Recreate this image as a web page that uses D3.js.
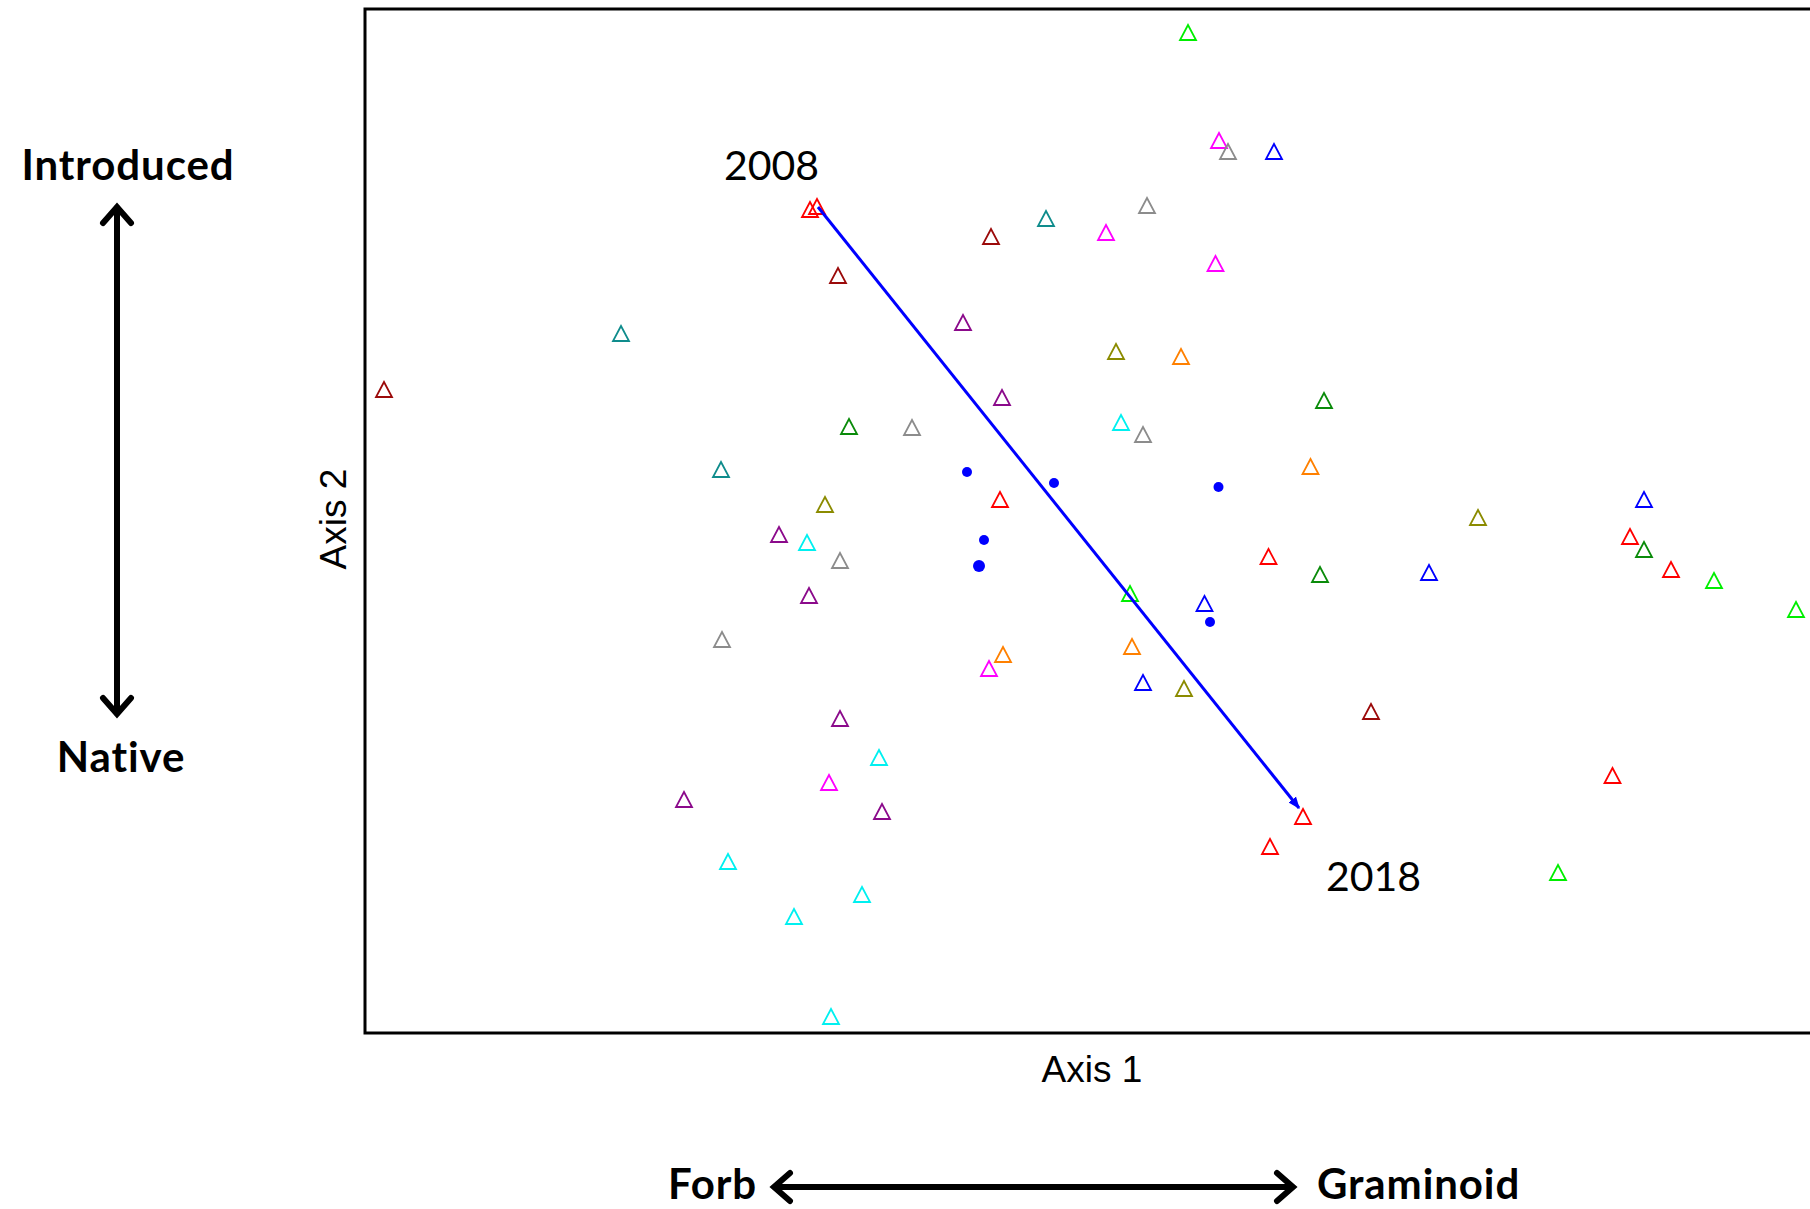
<!DOCTYPE html>
<html>
<head>
<meta charset="utf-8">
<script src="https://cdn.jsdelivr.net/npm/d3@7"></script>
<style>
  html, body { margin: 0; padding: 0; background: #fff; }
  svg { display: block; }
</style>
</head>
<body>
<script>
// NMDS ordination scores of plots (Axis 1, Axis 2) and their group
const siteX = [0.176, 0.238, 0.256, 0.348, -0.580, -0.566, 0.094, -0.108, -0.218, 0.012,
  -0.524, 0.231, -0.958, -0.274, -1.432, 0.032, 0.162, -0.196, 0.448, -0.502,
  -0.376, 0.042, 0.086, -0.758, 0.421, -0.200, -0.550, 1.088, 0.756, -0.642,
  -0.586, 1.060, 1.088, -0.520, 0.337, 0.440, 0.658, 1.142, 1.228, -0.582,
  0.060, 0.209, 1.392, -0.756, -0.194, -0.222, 0.064, 0.086, 0.168, 0.542,
  -0.520, -0.442, -0.542, -0.832, -0.436, 1.025, 0.406, 0.340, -0.744, -0.476,
  -0.612, 0.916, -0.538];
const siteY = [0.976, 0.760, 0.738, 0.738, 0.622, 0.628, 0.630, 0.604, 0.568, 0.576,
  0.490, 0.514, 0.374, 0.396, 0.262, 0.338, 0.328, 0.246, 0.240, 0.188,
  0.186, 0.196, 0.172, 0.102, 0.108, 0.042, 0.032, 0.042, 0.006, -0.028,
  -0.044, -0.032, -0.058, -0.080, -0.072, -0.108, -0.104, -0.098, -0.120, -0.150,
  -0.146, -0.166, -0.178, -0.238, -0.268, -0.296, -0.252, -0.324, -0.336, -0.382,
  -0.396, -0.474, -0.524, -0.558, -0.582, -0.510, -0.592, -0.652, -0.682, -0.748,
  -0.792, -0.704, -0.992];
const siteGroup = ["lime", "magenta", "gray", "blue", "red", "red", "gray", "teal", "darkred", "magenta",
  "darkred", "magenta", "teal", "purple", "darkred", "olive", "orange", "purple", "green", "green",
  "gray", "cyan", "gray", "teal", "orange", "red", "olive", "blue", "olive", "purple",
  "cyan", "red", "green", "gray", "red", "green", "blue", "red", "lime", "purple",
  "lime", "blue", "lime", "gray", "orange", "magenta", "orange", "blue", "olive", "darkred",
  "purple", "cyan", "magenta", "purple", "purple", "red", "red", "red", "cyan", "cyan",
  "cyan", "lime", "cyan"];

// Group colours
const groupNames  = ["red", "darkred", "teal", "gray", "magenta", "lime", "blue", "purple", "olive", "orange", "green", "cyan"];
const groupColors = ["#ff0000", "#9b0a0a", "#0f8c8c", "#8c8c8c", "#ff00ff", "#00ee00", "#0000ff", "#8b0a8b", "#8b8b00", "#ff8000", "#0a8b0a", "#00f0f0"];

// Yearly centroids of the plots (filled dots)
const centroidX = [-0.266, -0.092, 0.237, -0.232, -0.242, 0.220];
const centroidY = [0.098, 0.076, 0.068, -0.038, -0.090, -0.202];
const centroidR = [5, 5, 5, 5, 6, 5];

// Successional vector from 2008 to 2018
const trajYears = ["2008", "2018"];
const trajX = [-0.564, 0.398];
const trajY = [0.628, -0.574];

const W = 1810, H = 1209;
const svg = d3.select("body").append("svg").attr("width", W).attr("height", H);

// Plot frame (its right side runs past the page edge)
const frame = { left: 365, top: 9, right: 1845, bottom: 1033 };
const x = d3.scaleLinear().domain([-1.47, 1.49]).range([frame.left, frame.right]);
const y = d3.scaleLinear().domain([-1.024, 1.024]).range([frame.bottom, frame.top]);

const color = d3.scaleOrdinal().domain(groupNames).range(groupColors);

svg.append("rect")
  .attr("x", frame.left).attr("y", frame.top)
  .attr("width", frame.right - frame.left).attr("height", frame.bottom - frame.top)
  .attr("fill", "none").attr("stroke", "#000").attr("stroke-width", 3);

// Axis titles
svg.append("text")
  .attr("x", 1092).attr("y", 1082)
  .attr("text-anchor", "middle")
  .attr("font-family", "Liberation Sans, Arial, sans-serif")
  .attr("font-size", 37).attr("fill", "#000")
  .text("Axis 1");
svg.append("text")
  .attr("transform", "translate(346,519) rotate(-90)")
  .attr("text-anchor", "middle")
  .attr("font-family", "Liberation Sans, Arial, sans-serif")
  .attr("font-size", 37).attr("fill", "#000")
  .text("Axis 2");

// Plot symbols: open triangles
const tri = (cx, cy) => {
  const s = 8;
  return `M${cx},${cy - s}L${cx + s},${cy + s - 1}L${cx - s},${cy + s - 1}Z`;
};
const sites = siteX.map((v, i) => ({ x: siteX[i], y: siteY[i], g: siteGroup[i] }));
svg.append("g").selectAll("path")
  .data(sites)
  .join("path")
  .attr("d", d => tri(x(d.x), y(d.y)))
  .attr("fill", "none")
  .attr("stroke", d => color(d.g))
  .attr("stroke-width", 1.8);

// Centroids
svg.append("g").selectAll("circle")
  .data(centroidX.map((v, i) => ({ x: v, y: centroidY[i], r: centroidR[i] })))
  .join("circle")
  .attr("cx", d => x(d.x)).attr("cy", d => y(d.y)).attr("r", d => d.r)
  .attr("fill", "#0000ff");

// Trajectory arrow
const defs = svg.append("defs");
defs.append("marker")
  .attr("id", "trajHead")
  .attr("viewBox", "0 0 10 10")
  .attr("refX", 9).attr("refY", 5)
  .attr("markerWidth", 4).attr("markerHeight", 4)
  .attr("markerUnits", "strokeWidth")
  .attr("orient", "auto")
  .append("path").attr("d", "M0,1L10,5L0,9Z").attr("fill", "#0000ff");

svg.append("line")
  .attr("x1", x(trajX[0])).attr("y1", y(trajY[0]))
  .attr("x2", x(trajX[1])).attr("y2", y(trajY[1]))
  .attr("stroke", "#0000ff").attr("stroke-width", 3)
  .attr("marker-end", "url(#trajHead)");

const yearFont = "Lato, 'Noto Sans', sans-serif";
svg.append("text")
  .attr("x", x(trajX[0]) + 1).attr("y", y(trajY[0]) - 27)
  .attr("text-anchor", "end")
  .attr("font-family", yearFont).attr("font-size", 41).attr("fill", "#000")
  .text(trajYears[0]);
svg.append("text")
  .attr("x", x(trajX[1]) + 27).attr("y", y(trajY[1]) + 83)
  .attr("text-anchor", "start")
  .attr("font-family", yearFont).attr("font-size", 41).attr("fill", "#000")
  .text(trajYears[1]);

// Interpretation arrows outside the frame
const chevron = (tx, ty, dx, dy) => {
  // open arrowhead pointing in direction (dx, dy)
  const a = 16, b = 14;
  const px = -dy, py = dx;
  return `M${tx - dx * a + px * b},${ty - dy * a + py * b}L${tx},${ty}L${tx - dx * a - px * b},${ty - dy * a - py * b}`;
};
const guide = svg.append("g").attr("stroke", "#000").attr("fill", "none")
  .attr("stroke-width", 6).attr("stroke-linecap", "round").attr("stroke-linejoin", "miter");

guide.append("line").attr("x1", 117).attr("y1", 208).attr("x2", 117).attr("y2", 713);
guide.append("path").attr("d", chevron(117, 207, 0, -1));
guide.append("path").attr("d", chevron(117, 714, 0, 1));

guide.append("line").attr("x1", 775).attr("y1", 1187).attr("x2", 1292).attr("y2", 1187);
guide.append("path").attr("d", chevron(774, 1187, -1, 0));
guide.append("path").attr("d", chevron(1293, 1187, 1, 0));

const labelFont = "Lato, 'Noto Sans', sans-serif";
const labels = [
  { t: "Introduced", x: 128, y: 180, a: "middle" },
  { t: "Native", x: 121, y: 772, a: "middle" },
  { t: "Forb", x: 757, y: 1199, a: "end" },
  { t: "Graminoid", x: 1317, y: 1199, a: "start" }
];
svg.append("g").selectAll("text")
  .data(labels)
  .join("text")
  .attr("x", d => d.x).attr("y", d => d.y)
  .attr("text-anchor", d => d.a)
  .attr("font-family", labelFont).attr("font-weight", "bold")
  .attr("font-size", 42).attr("letter-spacing", 0.9).attr("fill", "#000")
  .text(d => d.t);
</script>
</body>
</html>
